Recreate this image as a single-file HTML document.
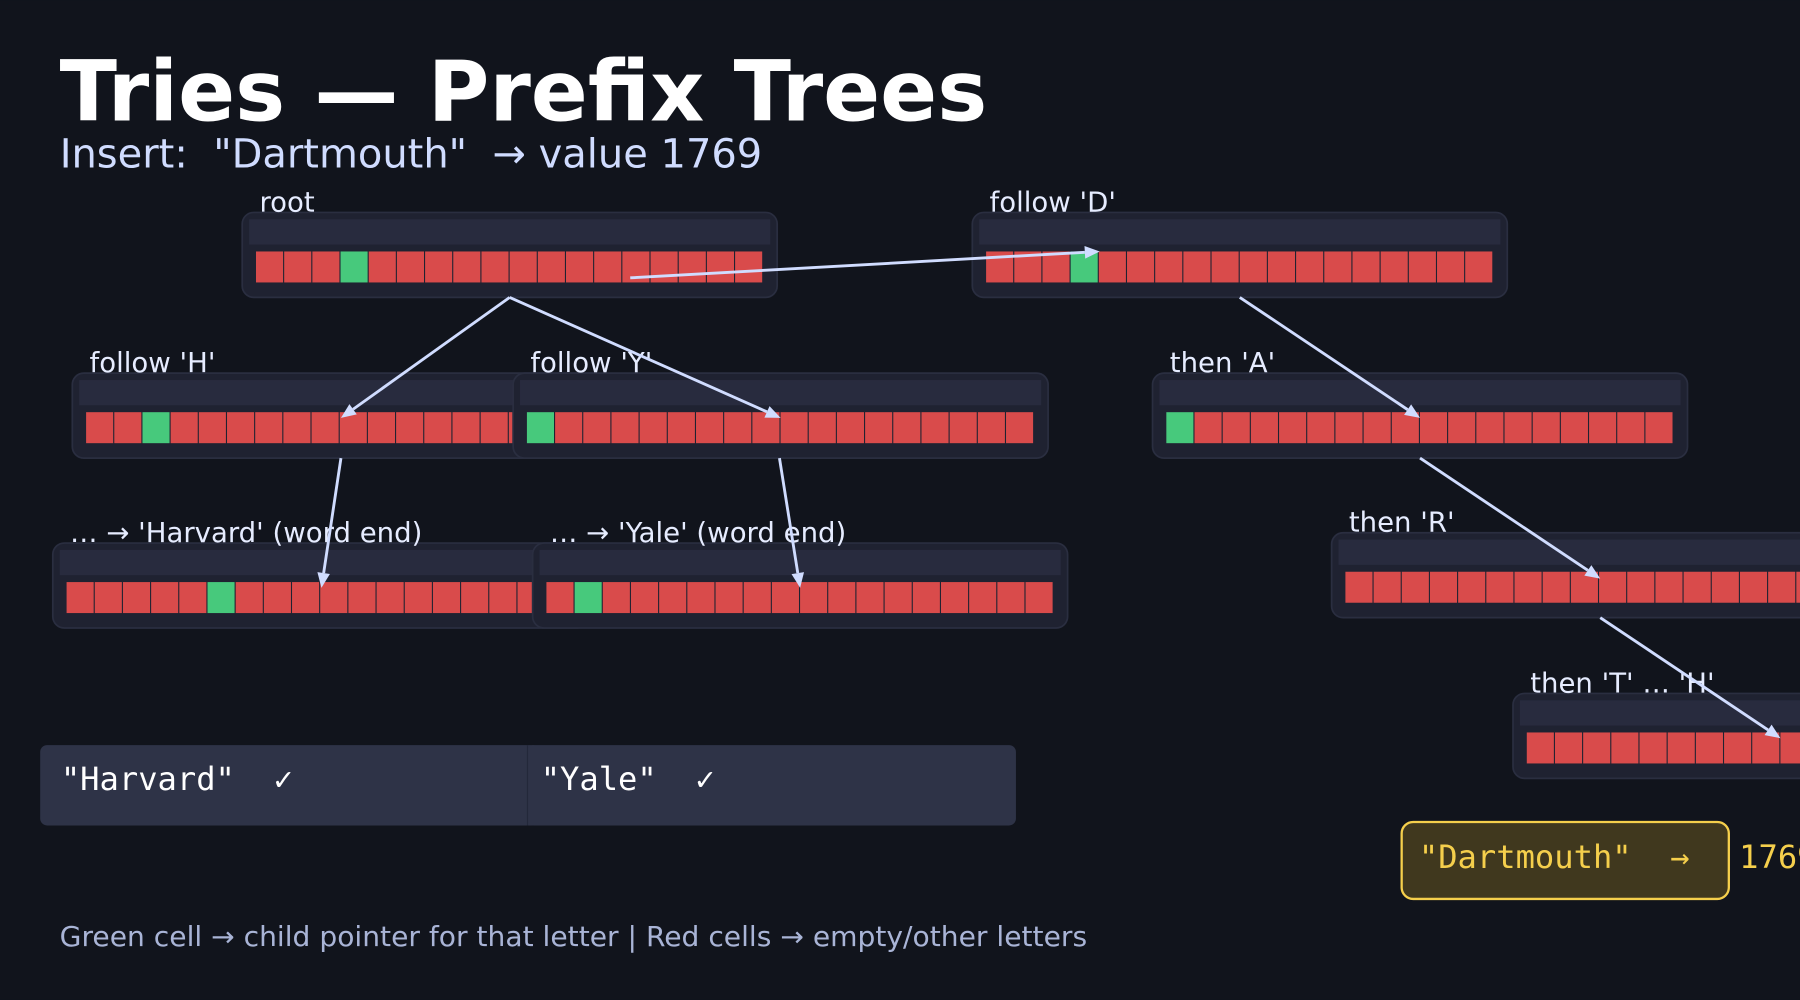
<!DOCTYPE html>
<html><head><meta charset="utf-8"><style>
html,body{margin:0;padding:0;background:#11141c;}
svg{display:block}
text{white-space:pre}
</style></head><body>
<svg id="s" width="1800" height="1000" viewBox="0 0 1568 871" xmlns="http://www.w3.org/2000/svg" xml:space="preserve">
<rect width="1568" height="871" fill="#11141c"/>
<text x="52" y="105" font-family="DejaVu Sans, Liberation Sans, sans-serif" font-weight="bold" font-size="73" fill="#ffffff" textLength="808" lengthAdjust="spacingAndGlyphs">Tries — Prefix Trees</text>
<text x="52" y="146" font-family="DejaVu Sans, Liberation Sans, sans-serif" font-size="35" fill="#d0dcff" textLength="612" lengthAdjust="spacingAndGlyphs">Insert:  "Dartmouth"  → value 1769</text>
<g id="nodes" font-family="DejaVu Sans, Liberation Sans, sans-serif" font-size="24" fill="#e6ecff"></g>
<g font-family="DejaVu Sans Mono, Liberation Mono, monospace" font-size="28">
<rect x="35" y="649" width="435" height="70" rx="6" fill="#2e3347"/>
<text x="53" y="688" fill="#ffffff">"Harvard"  ✓</text>
<rect x="459" y="649" width="426" height="70" rx="6" fill="#2e3347"/>
<line x1="459.5" y1="649" x2="459.5" y2="719" stroke="#23283a" stroke-width="1"/>
<text x="471" y="688" fill="#ffffff">"Yale"  ✓</text>
<rect x="1221" y="716" width="285" height="67" rx="10" fill="#40381e" stroke="#f5cf4c" stroke-width="2"/>
<text x="1236" y="756" fill="#f5cf4c">"Dartmouth"  →</text>
<text x="1515" y="756" fill="#f5cf4c">1769</text>
</g>
<g id="arrows" stroke="#d0dcff" stroke-width="2.5" fill="#d0dcff"></g>
<text x="52" y="824" font-family="DejaVu Sans, Liberation Sans, sans-serif" font-size="24" fill="#a9b4d6" textLength="895" lengthAdjust="spacingAndGlyphs">Green cell → child pointer for that letter | Red cells → empty/other letters</text>
</svg>
<script>
var NS="http://www.w3.org/2000/svg";
function el(p,t,a,txt){var e=document.createElementNS(NS,t);for(var k in a)e.setAttribute(k,a[k]);if(txt)e.textContent=txt;p.appendChild(e);return e;}
var g=document.getElementById("nodes");
var nodes=[
[211,185,3,"root"],[847,185,3,"follow 'D'"],
[63,325,2,"follow 'H'"],[447,325,0,"follow 'Y'"],[1004,325,0,"then 'A'"],
[46,473,5,"… → 'Harvard' (word end)"],[464,473,1,"… → 'Yale' (word end)"],
[1160,464,-1,"then 'R'"],[1318,604,-1,"then 'T' … 'H'"]];
var labels=[];
nodes.forEach(function(n){
 var x=n[0],y=n[1];
 labels.push([x+15,y-1,n[3]]);
 el(g,"rect",{x:x,y:y,width:466,height:74,rx:10,fill:"#1f2231",stroke:"#2a2e40","stroke-width":1.5});
 el(g,"rect",{x:x+6,y:y+6,width:454,height:22,fill:"#282b3e"});
 for(var i=0;i<18;i++){
  el(g,"rect",{x:x+12+i*24.55,y:y+34,width:23.6,height:27,fill:i==n[2]?"#47c97c":"#d94b4b"});
 }
});
labels.forEach(function(l){el(g,"text",{x:l[0],y:l[1]},l[2]);});
var a=document.getElementById("arrows");
[[549,242,958,219],[444,259,297,364],[444,259,680,364],[297,399,280,512],[679,399,697,512],[1080,259,1237,364],[1237,399,1394,504],[1394,538,1551,643]].forEach(function(c){
 var dx=c[2]-c[0],dy=c[3]-c[1],L=Math.hypot(dx,dy),ux=dx/L,uy=dy/L,h=13,w=5.5;
 var bx=c[2]-ux*h,by=c[3]-uy*h;
 el(a,"line",{x1:c[0],y1:c[1],x2:bx,y2:by});
 el(a,"polygon",{points:c[2]+","+c[3]+" "+(bx-uy*w)+","+(by+ux*w)+" "+(bx+uy*w)+","+(by-ux*w),stroke:"none"});
});
</script>
</body></html>
